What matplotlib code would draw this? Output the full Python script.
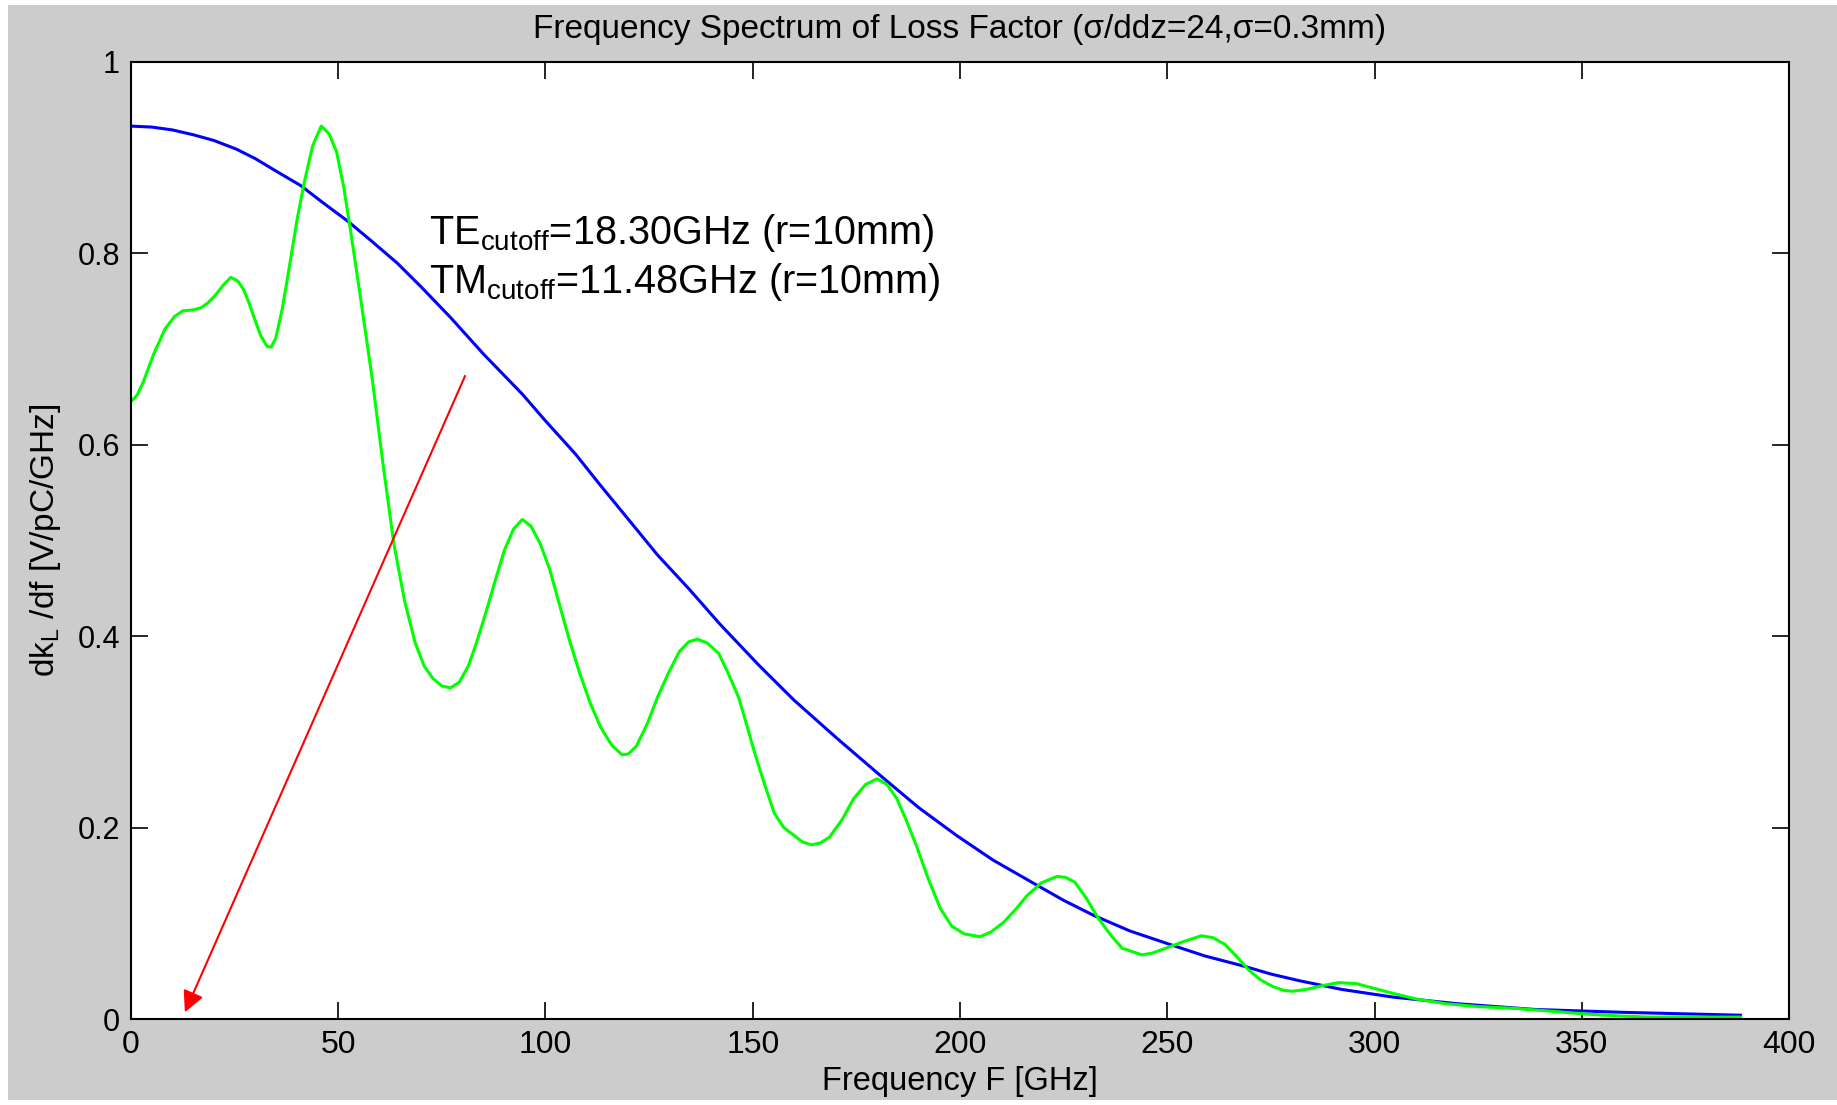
import matplotlib
matplotlib.use('Agg')
import matplotlib.pyplot as plt
from matplotlib.patches import Rectangle

plt.rcParams['font.family'] = ['Liberation Sans', 'DejaVu Sans']
plt.rcParams['mathtext.fontset'] = 'custom'
plt.rcParams['mathtext.rm'] = 'Liberation Sans'
plt.rcParams['mathtext.it'] = 'Liberation Sans'

# Gaussian bunch spectrum (blue)
f_bunch = [0, 5, 10, 15, 20, 25.4, 30, 35, 40.9, 46, 52.2, 58, 64.2, 70, 77.1, 85,
           94.4, 100, 107.3, 113, 120.2, 127, 134.7, 142, 151.4, 160, 170.4, 180.9,
           190, 199.1, 208, 218.1, 225, 232.4, 241, 250.6, 259, 268.7, 275, 281.9,
           292, 304.3, 320, 338.7, 360, 388.3]
k_bunch = [0.933, 0.932, 0.929, 0.924, 0.918, 0.909, 0.899, 0.886, 0.871, 0.854,
           0.834, 0.813, 0.790, 0.765, 0.733, 0.695, 0.653, 0.625, 0.590, 0.559,
           0.521, 0.485, 0.449, 0.413, 0.370, 0.333, 0.293, 0.254, 0.221, 0.192,
           0.166, 0.141, 0.124, 0.108, 0.092, 0.078, 0.066, 0.055, 0.047, 0.040,
           0.031, 0.023, 0.016, 0.010, 0.007, 0.004]

# loss factor spectrum (green)
f_loss = [0, 1.5, 3, 5.5, 8.2, 10.5, 12.5, 15, 16.8, 18.5, 20.3, 22.3, 24.1, 25.8,
          27.2, 28.5, 29.7, 31.3, 32.8, 33.8, 34.9, 36.5, 38.4, 40.1, 41.8, 43.8,
          45.9, 47.8, 49.6, 51.3, 53.0, 55.5, 58.2, 60.8, 63.4, 66, 68.5, 70.7, 72.8,
          75, 77.1, 79.2, 81.4, 83.5, 85.7, 88, 90.1, 92.3, 94.4, 96.5, 98.7, 101,
          103.0, 105.5, 108.2, 110.8, 113.3, 116, 118.5, 120, 121.9, 124.5, 127.1,
          129.7, 132.3, 134.5, 136.6, 139, 141.8, 144, 146.6, 148.5, 150.4, 152.8,
          155.2, 157.5, 159.9, 162, 164.2, 166.3, 168.5, 171.5, 174.3, 177.2, 180.0,
          182.4, 184.8, 187, 189.5, 192.3, 195.2, 198, 201.0, 204.8, 207.5, 210.5,
          213.5, 216.2, 219.5, 223.4, 225.5, 227.7, 230.5, 233.4, 236.3, 239.1,
          243.9, 246.5, 249.6, 254, 258.2, 261, 263.9, 266.8, 269.7, 272.5, 275.4,
          278, 280.1, 283.6, 287.5, 291.3, 295.6, 300, 304.3, 310, 317.2, 325,
          334.4, 343, 351.7, 360, 366.7, 388.3]
k_loss = [0.645, 0.652, 0.666, 0.695, 0.721, 0.734, 0.740, 0.741, 0.743, 0.748,
          0.756, 0.767, 0.775, 0.771, 0.762, 0.748, 0.733, 0.714, 0.703, 0.702,
          0.711, 0.742, 0.791, 0.836, 0.874, 0.912, 0.933, 0.925, 0.906, 0.870,
          0.823, 0.750, 0.669, 0.580, 0.497, 0.437, 0.394, 0.369, 0.356, 0.348,
          0.346, 0.352, 0.369, 0.395, 0.426, 0.460, 0.490, 0.512, 0.522, 0.515,
          0.497, 0.470, 0.439, 0.400, 0.362, 0.330, 0.305, 0.286, 0.276, 0.277,
          0.285, 0.308, 0.337, 0.362, 0.384, 0.394, 0.397, 0.393, 0.382, 0.362,
          0.336, 0.308, 0.279, 0.246, 0.215, 0.200, 0.192, 0.185, 0.182, 0.184,
          0.190, 0.208, 0.230, 0.245, 0.251, 0.245, 0.230, 0.208, 0.181, 0.147,
          0.116, 0.097, 0.089, 0.086, 0.091, 0.101, 0.115, 0.129, 0.142, 0.149,
          0.148, 0.143, 0.126, 0.105, 0.088, 0.074, 0.067, 0.069, 0.074, 0.081,
          0.087, 0.085, 0.078, 0.065, 0.051, 0.041, 0.034, 0.030, 0.029, 0.031,
          0.035, 0.038, 0.037, 0.032, 0.027, 0.021, 0.016, 0.013, 0.011, 0.008,
          0.005, 0.003, 0.002, 0.002]

arrow_start = (80.6, 0.672)
arrow_end = (13.0, 0.007)
x_ticks = [0, 50, 100, 150, 200, 250, 300, 350, 400]
y_ticks = [0, 0.2, 0.4, 0.6, 0.8, 1]
y_ticklabels = ['0', '0.2', '0.4', '0.6', '0.8', '1']

fig = plt.figure(figsize=(18.37, 11.05), dpi=100, facecolor='white')
fig.patches.append(Rectangle((8 / 1837, 5 / 1105), 1 - 8 / 1837, 1 - 10 / 1105,
                             transform=fig.transFigure, facecolor='#cccccc',
                             edgecolor='none', zorder=-10))
ax = fig.add_axes([0.0713, 0.0778, 0.9026, 0.8661])
ax.set_facecolor('white')

ax.plot(f_bunch, k_bunch, color='#0000ff', lw=2.2)
ax.plot(f_loss, k_loss, color='#00ff00', lw=2.2)

ax.annotate('', xy=arrow_end, xytext=arrow_start,
            arrowprops=dict(arrowstyle='-|>', color='red', lw=1.5,
                            mutation_scale=32, shrinkA=0, shrinkB=0))

ax.text(71.8, 0.81, r'TE$_{\rm cutoff}$=18.30GHz (r=10mm)', fontsize=28.5)
ax.text(71.8, 0.759, r'TM$_{\rm cutoff}$=11.48GHz (r=10mm)', fontsize=28.5)

ax.set_xlim(0, 400)
ax.set_ylim(0, 1)
ax.set_xticks(x_ticks)
ax.set_yticks(y_ticks)
ax.set_yticklabels(y_ticklabels)
ax.tick_params(direction='in', length=12, width=1.2, top=True, right=True,
               labelsize=22, pad=8)
ax.tick_params(axis='x', labelsize=23)
for s in ax.spines.values():
    s.set_linewidth(1.5)

ax.set_title('Frequency Spectrum of Loss Factor (\u03c3/ddz=24,\u03c3=0.3mm)',
             fontsize=24, pad=17)
ax.set_xlabel('Frequency F [GHz]', fontsize=23.5, labelpad=4)
ax.set_ylabel(r'dk$_{\rm L}$ /df [V/pC/GHz]', fontsize=24, labelpad=10)

fig.savefig('out.png', dpi=100, facecolor=fig.get_facecolor())
